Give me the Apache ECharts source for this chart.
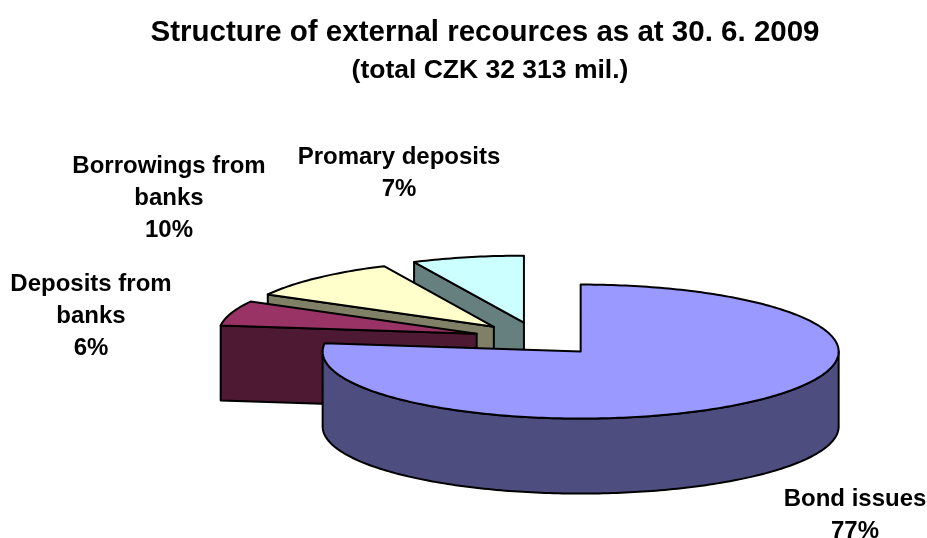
<!DOCTYPE html>
<html>
<head>
<meta charset="utf-8">
<style>html,body{margin:0;padding:0;background:#fff}#c{width:927px;height:538px}</style>
<script src="https://cdn.jsdelivr.net/npm/echarts@6/dist/echarts.min.js"></script>
</head>
<body>
<div id="c"></div>
<script>
// Data
const categories = ['Bond issues', 'Deposits from\nbanks', 'Borrowings from\nbanks', 'Promary deposits'];
const shares = [77, 6, 10, 7];
const titleText = 'Structure of external recources as at 30. 6. 2009';
const subtitleText = '(total CZK 32 313 mil.)';

// Style
const topColors = ['#9999FF', '#993366', '#FFFFCC', '#CCFFFF'];
const sideColors = ['#4D4D80', '#4D1933', '#808066', '#668080'];
const labelCentres = [[855, 515], [91, 316], [169, 198], [399, 173]];
const labelFont = 24;
const labelLine = 32;

// Pie projection
const cx = 538, cy = 339, rx = 258, ry = 67, depth = 75, explode = 0.25;
const total = shares.reduce((a, b) => a + b, 0);
const rad = d => d * Math.PI / 180;
const startAngles = shares.map((_, i) => shares.slice(0, i).reduce((a, b) => a + b, 0) * 360 / total);

function renderItem(params, api) {
  const i = params.dataIndex;
  const value = api.value(1);
  const a0 = startAngles[i];
  const a1 = a0 + value * 360 / total;
  const mid = (a0 + a1) / 2;
  const ox = cx + explode * rx * Math.sin(rad(mid));
  const oy = cy - explode * ry * Math.cos(rad(mid));
  const pt = (a, dy) => [ox + rx * Math.sin(rad(a)), oy - ry * Math.cos(rad(a)) + (dy || 0)];
  const arc = (from, to, dy) => {
    const pts = [];
    const n = Math.max(2, Math.ceil(Math.abs(to - from)));
    for (let k = 0; k <= n; k++) pts.push(pt(from + (to - from) * k / n, dy));
    return pts;
  };
  const base = (categories.length - i) * 10;
  const line = { stroke: '#000', lineWidth: 2, lineJoin: 'round' };
  const children = [];
  // Radial side wall facing the viewer
  if (a0 > 180) {
    children.push({
      type: 'polygon', z2: base,
      shape: { points: [pt(a0), [ox, oy], [ox, oy + depth], pt(a0, depth)] },
      style: Object.assign({ fill: sideColors[i] }, line)
    });
  }
  // Outer curved wall (front half only)
  const w0 = Math.max(a0, 90), w1 = Math.min(a1, 270);
  if (w1 > w0) {
    children.push({
      type: 'polygon', z2: base + 1,
      shape: { points: arc(w0, w1, 0).concat(arc(w1, w0, depth)) },
      style: Object.assign({ fill: sideColors[i] }, line)
    });
  }
  // Top face
  children.push({
    type: 'polygon', z2: base + 2,
    shape: { points: [[ox, oy]].concat(arc(a0, a1, 0)) },
    style: Object.assign({ fill: topColors[i] }, line)
  });
  // Label
  children.push({
    type: 'text', z2: 100,
    style: {
      x: labelCentres[i][0], y: labelCentres[i][1],
      text: categories[i] + '\n' + value + '%',
      align: 'center', verticalAlign: 'middle',
      fontFamily: '"Liberation Sans", Arial, sans-serif',
      fontWeight: 'bold', fontSize: labelFont, lineHeight: labelLine, fill: '#000'
    }
  });
  return { type: 'group', children };
}

const chart = echarts.init(document.getElementById('c'), null, { renderer: 'canvas' });
chart.setOption({
  animation: false,
  backgroundColor: '#fff',
  title: [
    { text: titleText, left: 485, top: 13, textAlign: 'center',
      textStyle: { fontFamily: '"Liberation Sans", Arial, sans-serif', fontWeight: 'bold', fontSize: 29.5, color: '#000' } },
    { text: subtitleText, left: 485, top: 52, textAlign: 'center',
      textStyle: { fontFamily: '"Liberation Sans", Arial, sans-serif', fontWeight: 'bold', fontSize: 26.5, color: '#000' } }
  ].map((t, k) => k === 0 ? Object.assign(t, { left: 485 - 5 }) : t),
  series: [{
    type: 'custom',
    coordinateSystem: 'none',
    renderItem,
    clip: false,
    data: shares.map((v, i) => [i, v])
  }]
});
</script>
</body>
</html>
